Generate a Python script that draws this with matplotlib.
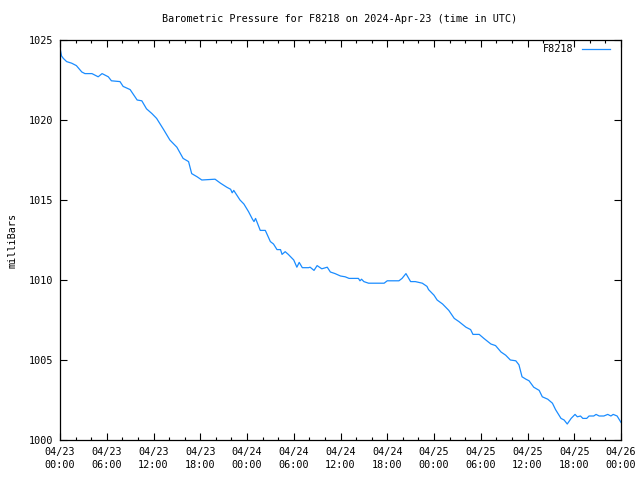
import matplotlib
matplotlib.use("Agg")
import matplotlib.pyplot as plt

# hours since 2024-04-23 00:00 UTC, pressure in mbar
hours = [0.0, 0.2, 0.43, 0.85, 1.5, 2.1, 2.8, 3.2, 4.1, 4.9, 5.4, 6.2, 6.6, 7.7, 8.1,
         9.0, 9.9, 10.5, 11.1, 11.8, 12.4, 13.3, 14.1, 15.0, 15.8, 16.5, 16.9, 17.6,
         18.2, 19.9, 20.6, 21.4, 21.9, 22.1, 22.3, 23.1, 23.6, 24.2, 24.7, 24.9, 25.1,
         25.7, 26.35, 27.0, 27.4, 27.85, 28.3, 28.5, 28.9, 29.3, 30.0, 30.4, 30.7,
         31.1, 31.9, 32.1, 32.6, 33.0, 33.6, 34.3, 34.7, 35.3, 36.0, 36.6, 37.1, 38.3,
         38.5, 38.7, 39.0, 39.6, 41.6, 42.0, 43.5, 43.9, 44.4, 45.0, 45.6, 46.5, 47.1,
         47.3, 48.0, 48.4, 49.1, 49.9, 50.6, 51.2, 52.1, 52.7, 53.0, 53.8, 54.4, 55.3,
         55.9, 56.6, 57.2, 57.8, 58.5, 58.9, 59.3, 59.8, 60.2, 60.8, 61.5, 61.9, 62.6,
         63.2, 63.6, 64.3, 64.7, 65.1, 65.6, 66.1, 66.4, 66.8, 67.1, 67.6, 67.9, 68.5,
         68.8, 69.2, 69.8, 70.3, 70.7, 71.0, 71.5, 72.0]
pressure = [1024.5, 1024.0, 1023.85, 1023.65, 1023.55, 1023.4, 1023.0, 1022.9, 1022.9,
            1022.7, 1022.9, 1022.7, 1022.45, 1022.4, 1022.1, 1021.9, 1021.25, 1021.2,
            1020.7, 1020.4, 1020.1, 1019.4, 1018.75, 1018.3, 1017.6, 1017.4, 1016.65,
            1016.45, 1016.25, 1016.3, 1016.05, 1015.8, 1015.67, 1015.45, 1015.6, 1015.0,
            1014.75, 1014.27, 1013.8, 1013.65, 1013.85, 1013.1, 1013.1, 1012.4, 1012.25,
            1011.9, 1011.9, 1011.6, 1011.77, 1011.6, 1011.25, 1010.8, 1011.1, 1010.77,
            1010.77, 1010.8, 1010.6, 1010.9, 1010.7, 1010.8, 1010.5, 1010.4, 1010.25,
            1010.2, 1010.1, 1010.1, 1009.95, 1010.05, 1009.9, 1009.8, 1009.8, 1009.95,
            1009.95, 1010.1, 1010.4, 1009.9, 1009.9, 1009.8, 1009.6, 1009.4, 1009.05,
            1008.75, 1008.5, 1008.1, 1007.6, 1007.4, 1007.05, 1006.9, 1006.6, 1006.6,
            1006.35, 1006.0, 1005.9, 1005.5, 1005.3, 1005.0, 1004.95, 1004.7, 1003.95,
            1003.8, 1003.7, 1003.3, 1003.1, 1002.7, 1002.55, 1002.3, 1001.9, 1001.35,
            1001.25, 1001.0, 1001.35, 1001.6, 1001.45, 1001.5, 1001.35, 1001.35, 1001.5,
            1001.5, 1001.6, 1001.5, 1001.5, 1001.6, 1001.5, 1001.6, 1001.5, 1001.1]

xtick_hours = [0, 6, 12, 18, 24, 30, 36, 42, 48, 54, 60, 66, 72]
xtick_labels = ["04/23\n00:00", "04/23\n06:00", "04/23\n12:00", "04/23\n18:00",
                "04/24\n00:00", "04/24\n06:00", "04/24\n12:00", "04/24\n18:00",
                "04/25\n00:00", "04/25\n06:00", "04/25\n12:00", "04/25\n18:00",
                "04/26\n00:00"]
yticks = [1000, 1005, 1010, 1015, 1020, 1025]

plt.rcParams['font.family'] = 'DejaVu Sans Mono'
plt.rcParams['font.size'] = 7.3

fig = plt.figure(figsize=(6.4, 4.8), dpi=100)
ax = fig.add_axes([60/640, 40/480, 561/640, 400/480])

ax.plot(hours, pressure, color='#1a8cff', linewidth=0.9, label="F8218")

ax.set_xlim(0, 72)
ax.set_ylim(1000, 1025)
ax.set_xticks(xtick_hours)
ax.set_xticklabels(xtick_labels, linespacing=1.4)
ax.set_xticks(range(0, 73, 2), minor=True)
ax.set_yticks(yticks)
ax.tick_params(which='both', direction='in', top=True, right=True, width=0.8)
ax.tick_params(which='major', length=5, pad=5)
ax.tick_params(which='minor', length=2.5)
for s in ax.spines.values():
    s.set_linewidth(0.9)

ax.set_ylabel("milliBars", labelpad=8)
fig.text(340/640, 1 - 19/480, "Barometric Pressure for F8218 on 2024-Apr-23 (time in UTC)",
         ha='center', va='center', fontsize=7.3)

leg = ax.legend(loc='upper right', bbox_to_anchor=(1 - 11/561, 1 - 4.5/400),
                frameon=False, handlelength=2.8, handletextpad=0.8,
                borderaxespad=0, borderpad=0, markerfirst=False)

fig.savefig("out.png", dpi=100)
